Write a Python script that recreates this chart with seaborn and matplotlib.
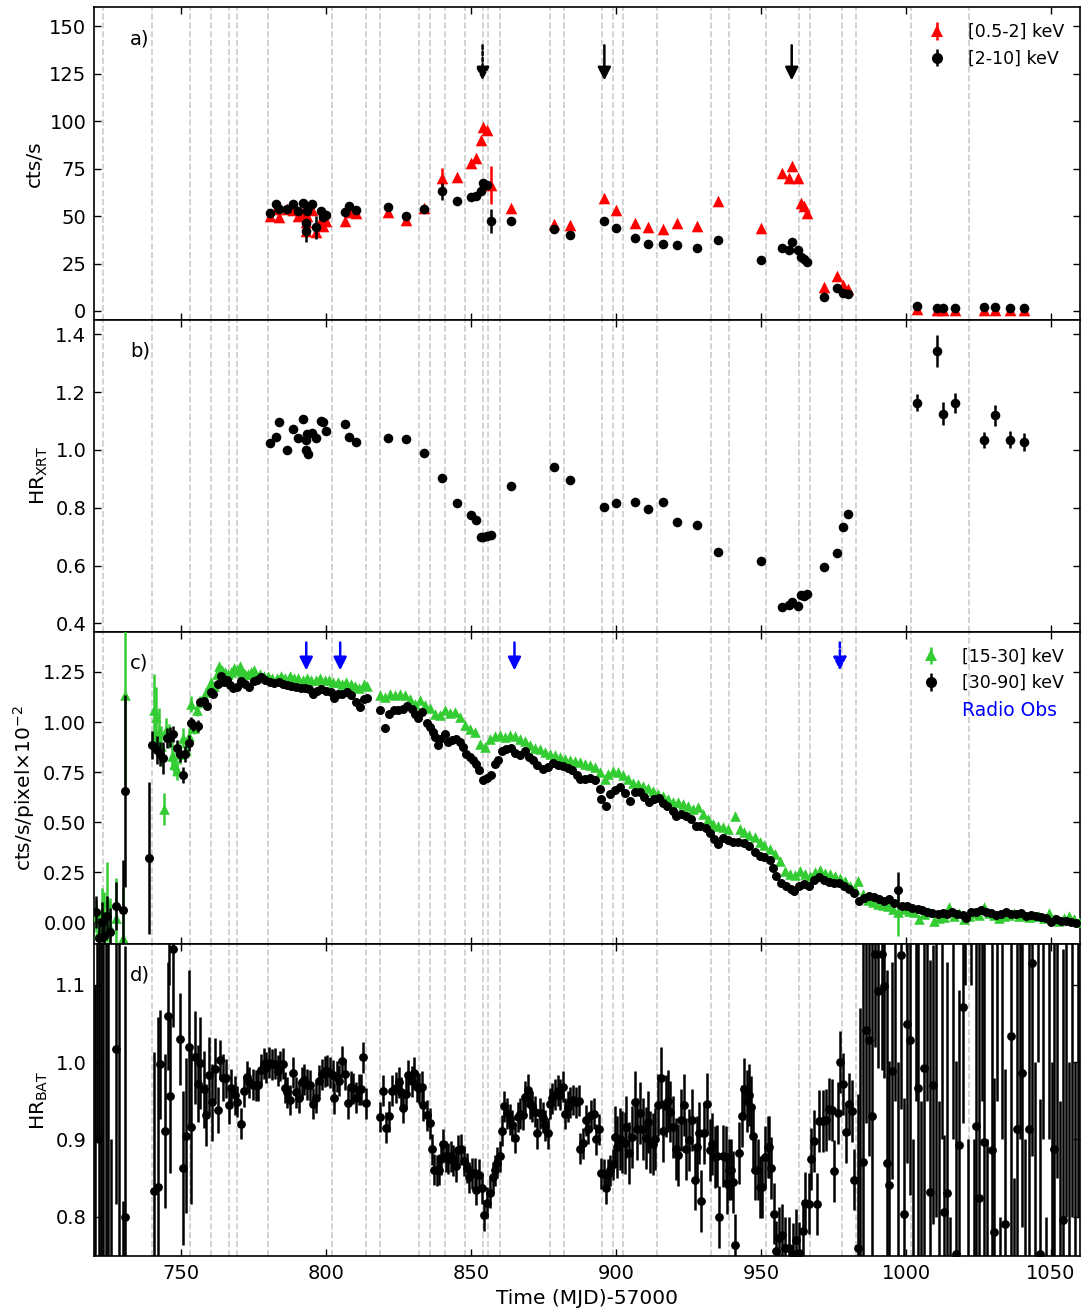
import numpy as np
import matplotlib
matplotlib.use("Agg")
import matplotlib.pyplot as plt
import seaborn as sns
from matplotlib.lines import Line2D
from matplotlib.ticker import FormatStrFormatter

# ---------------------------------------------------------------- XRT data
xrt_t = [780.8, 782.6, 783.8, 786.6, 788.8, 790.3, 792.0, 793.0, 793.2, 793.5,
         793.8, 795.2, 796.5, 798.4, 798.9, 800.1,
         806.6, 808.1, 810.5, 821.4, 827.7, 833.7, 839.9, 845.2, 850.0, 851.6,
         853.6, 854.0, 855.4, 856.9, 863.8, 878.8, 884.2, 896.0, 899.9, 906.5,
         911.1, 916.3, 921.2, 927.9, 935.2, 950.0, 957.3, 959.5, 960.6, 962.7,
         963.7, 964.8, 966.0, 971.8, 976.3, 978.4, 980.1, 1003.9, 1010.8, 1012.7,
         1016.9, 1026.9, 1030.8, 1035.9, 1040.7]

xrt_hard = [51.4, 56.2, 54.0, 53.7, 56.5, 52.5, 56.7, 42.1, 46.5, 52.5,
            54.6, 56.2, 44.0, 52.6, 49.6, 50.7,
            52.1, 55.5, 53.0, 54.6, 50.0, 53.5, 63.0, 57.9, 60.0, 60.7,
            63.4, 67.3, 66.5, 47.4, 47.4, 43.0, 40.3, 47.5, 43.7, 38.2,
            35.4, 35.2, 34.7, 33.1, 37.5, 26.9, 33.3, 32.4, 36.1, 32.4,
            28.3, 27.3, 25.9, 7.6, 12.0, 9.7, 8.8, 2.5, 1.8, 1.8,
            1.8, 1.9, 2.1, 1.8, 1.8]
xrt_hard_err = ([0.8] * 7 + [6.0] + [0.8] * 4 + [6.0] + [0.8] * 3
                + [0.8] * 6 + [4.5, 0.8] + [0.8] * 5 + [6.5] + [0.8] * 31)

xrt_soft = [50.0, 53.5, 49.3, 53.5, 53.0, 50.2, 51.5, 42.1, 46.8, 50.2,
            55.0, 53.2, 41.7, 47.8, 44.7, 47.2,
            47.5, 52.3, 51.4, 52.1, 48.2, 54.4, 69.9, 70.8, 77.8, 80.8,
            90.1, 97.2, 95.4, 66.4, 54.4, 45.8, 45.1, 59.3, 53.3, 46.5,
            44.4, 43.0, 46.5, 44.7, 57.9, 43.8, 72.5, 70.2, 76.6, 69.9,
            57.0, 55.3, 51.8, 12.7, 18.7, 13.6, 11.6, 1.2, 0.7, 0.7,
            0.7, 0.7, 0.7, 0.7, 0.7]
xrt_soft_err = ([0.8] * 7 + [3.0] + [0.8] * 4 + [3.5] + [0.8] * 3
                + [0.8] * 6 + [5.5, 0.8] + [0.8] * 5 + [10.0] + [0.8] * 31)

xrt_hr = [1.025, 1.043, 1.095, 1.000, 1.073, 1.040, 1.107, 1.035, 0.999, 1.055,
          0.987, 1.059, 1.042, 1.101, 1.095, 1.066,
          1.089, 1.044, 1.028, 1.042, 1.036, 0.989, 0.903, 0.817, 0.774, 0.756,
          0.700, 0.698, 0.701, 0.706, 0.876, 0.942, 0.895, 0.802, 0.815, 0.821,
          0.794, 0.819, 0.751, 0.741, 0.647, 0.617, 0.458, 0.464, 0.473, 0.461,
          0.499, 0.496, 0.502, 0.595, 0.644, 0.733, 0.777, 1.163, 1.343, 1.125,
          1.163, 1.033, 1.119, 1.035, 1.027]
xrt_hr_err = [0.008] * 53 + [0.03, 0.055, 0.04, 0.035, 0.028, 0.035, 0.03, 0.03]

# ---------------------------------------------------------------- BAT 30-90 keV
hard_noisy_t = [720.6, 721.6, 722.6, 723.6, 724.6, 725.6, 727.5, 729.9, 730.7, 739.1,
                740.1, 741.8, 742.9, 743.8, 745.2, 746.3, 747.4, 748.6, 749.7, 750.6,
                751.4, 752.6, 753.4, 754.3, 755.7, 997.4]
hard_noisy_v = [0.05, -0.08, 0.00, -0.07, 0.03, -0.05, 0.08, 0.06, 0.655, 0.32,
                0.883, 0.86, 0.84, 0.82, 0.92, 0.925, 0.94, 0.87, 0.84, 0.735,
                0.84, 0.895, 0.995, 0.985, 0.98, 0.161]
hard_noisy_e = [0.08, 0.10, 0.10, 0.12, 0.10, 0.12, 0.12, 0.25, 0.48, 0.38,
                0.07, 0.07, 0.06, 0.08, 0.05, 0.05, 0.04, 0.04, 0.04, 0.04,
                0.04, 0.04, 0.03, 0.03, 0.03, 0.09]

hard_rise_t = [756.6, 757.8, 759.1, 760.3, 761.2, 762.6, 763.7, 764.9, 766.0, 767.0,
               768.1, 769.3, 770.6, 772.2, 773.3, 775.1, 776.2, 777.7, 779.1, 780.8,
               782.2, 783.8, 785.3, 786.6, 788.1, 789.5, 791.3, 792.7, 794.2, 795.5,
               797.0, 798.4, 799.9, 801.6, 802.7, 804.1, 805.6, 807.4, 808.7, 810.2,
               811.6, 813.1, 814.2]
hard_rise_v = [1.10, 1.105, 1.08, 1.15, 1.14, 1.19, 1.23, 1.20, 1.21, 1.185,
               1.17, 1.175, 1.205, 1.19, 1.175, 1.205, 1.21, 1.225, 1.21, 1.20,
               1.195, 1.20, 1.19, 1.185, 1.18, 1.175, 1.17, 1.17, 1.165, 1.14,
               1.155, 1.165, 1.155, 1.15, 1.12, 1.14, 1.14, 1.15, 1.135, 1.10,
               1.075, 1.115, 1.12]

hard_decay_t = [818.7, 820.4, 821.6, 823.3, 825.0, 826.5, 828.1, 829.6, 830.8, 831.9,
                833.1, 834.8, 835.9, 836.9, 837.7, 838.6, 839.4, 841.1, 842.2, 843.4,
                844.9, 846.3, 847.4, 848.3, 849.5, 850.6, 851.7, 852.9, 854.3, 855.4,
                856.8, 858.3, 859.4, 860.6, 862.1, 863.7, 865.2, 866.9, 868.6, 870.1,
                871.5, 872.9, 874.9, 876.7, 878.4, 880.1, 881.8, 883.5, 885.0, 886.6,
                887.6, 889.3, 891.0, 892.7, 894.5, 895.0, 896.5, 897.9, 899.6, 901.4,
                903.1, 904.8, 906.5, 908.2, 909.7, 911.5, 913.1, 914.9, 916.3, 917.6,
                919.5, 920.8, 922.5, 924.3, 926.0, 927.5, 929.1, 930.9, 932.3, 933.8,
                935.2, 936.9, 938.6, 940.4, 942.1]
hard_decay_v = [1.058, 0.97, 1.04, 1.06, 1.058, 1.066, 1.08, 1.066, 1.04, 1.02,
                1.05, 0.996, 0.975, 0.95, 0.925, 0.883, 0.917, 0.942, 0.90, 0.908,
                0.913, 0.90, 0.875, 0.842, 0.825, 0.808, 0.792, 0.758, 0.708, 0.72,
                0.733, 0.792, 0.808, 0.853, 0.863, 0.87, 0.846, 0.836, 0.853, 0.825,
                0.808, 0.787, 0.763, 0.775, 0.796, 0.787, 0.78, 0.77, 0.758, 0.733,
                0.713, 0.717, 0.72, 0.708, 0.667, 0.617, 0.583, 0.642, 0.658, 0.675,
                0.646, 0.608, 0.65, 0.65, 0.625, 0.60, 0.617, 0.62, 0.596, 0.58,
                0.558, 0.533, 0.542, 0.533, 0.517, 0.483, 0.48, 0.47, 0.446, 0.416,
                0.391, 0.42, 0.413, 0.40, 0.40]

hard_tail_t = [944.3, 946.0, 947.8, 949.5, 951.2, 953.0, 954.1, 955.2, 957.0, 958.7,
               960.4, 961.5, 963.2, 965.0, 966.7, 968.4, 970.1, 971.9, 973.6, 975.3,
               977.0, 978.7, 980.5, 982.2, 983.9, 985.6, 987.4, 989.1, 990.8, 992.5,
               994.2, 996.0, 998.8, 1000.5, 1002.2, 1004.0, 1005.7, 1007.4, 1009.1, 1010.9,
               1012.6, 1014.3, 1016.0, 1017.7, 1019.5, 1020.6, 1022.3, 1024.0, 1025.8, 1027.5,
               1029.2, 1030.9, 1032.7, 1034.4, 1036.1, 1037.8, 1039.5, 1041.3, 1043.0, 1044.7,
               1046.4, 1048.2, 1049.9, 1051.6, 1053.3, 1055.1, 1056.8, 1058.5]
hard_tail_v = [0.397, 0.383, 0.35, 0.33, 0.325, 0.31, 0.272, 0.23, 0.194, 0.18,
               0.164, 0.156, 0.18, 0.19, 0.18, 0.21, 0.225, 0.213, 0.20, 0.197,
               0.194, 0.183, 0.164, 0.144, 0.106, 0.122, 0.13, 0.125, 0.117, 0.106,
               0.117, 0.095, 0.083, 0.083, 0.07, 0.067, 0.062, 0.05, 0.047, 0.042,
               0.045, 0.042, 0.05, 0.042, 0.037, 0.02, 0.053, 0.053, 0.062, 0.053,
               0.045, 0.037, 0.042, 0.05, 0.042, 0.042, 0.045, 0.033, 0.037, 0.03,
               0.025, 0.02, 0.003, 0.017, 0.008, 0.008, 0.003, -0.003]

# ---------------------------------------------------------------- BAT 15-30 keV
soft_noisy_t = [720.6, 721.6, 722.6, 723.6, 724.6, 725.6, 727.5, 729.9, 730.7, 740.6,
                741.3, 742.3, 743.0, 744.1, 744.8, 745.8, 747.0, 747.7, 748.6, 749.7,
                750.6, 751.7, 752.6, 753.4, 754.4, 755.6, 756.6, 757.6, 758.6, 759.5,
                997.4]
soft_noisy_v = [0.03, -0.05, 0.05, 0.00, 0.10, -0.03, 0.02, -0.08, 1.133, 1.058,
                1.025, 0.95, 0.88, 0.566, 0.96, 0.93, 0.83, 0.79, 0.76, 0.84,
                0.92, 0.86, 0.93, 1.09, 0.97, 1.06, 1.10, 1.11, 1.15, 1.17,
                0.05]
soft_noisy_e = [0.08, 0.10, 0.12, 0.15, 0.20, 0.15, 0.20, 0.25, 0.45, 0.18,
                0.15, 0.12, 0.10, 0.08, 0.06, 0.06, 0.07, 0.06, 0.05, 0.05,
                0.05, 0.04, 0.04, 0.04, 0.03, 0.03, 0.03, 0.02, 0.02, 0.02,
                0.12]

soft_rise_t = [760.4, 761.3, 762.3, 763.2, 764.2, 765.2, 766.2, 767.2, 768.2, 769.2,
               770.2, 771.2, 772.2, 773.2, 774.2, 775.2, 776.2, 777.2, 778.5, 780.0,
               781.5, 783.0, 784.5, 786.0, 787.5, 789.0, 790.5, 792.0, 793.5, 795.0,
               796.5, 798.0, 799.5, 801.0, 802.5, 804.0, 805.5, 807.0, 808.5, 810.0,
               811.5, 813.0, 814.2]
soft_rise_v = [1.20, 1.18, 1.24, 1.28, 1.26, 1.25, 1.24, 1.25, 1.27, 1.26,
               1.28, 1.25, 1.24, 1.24, 1.25, 1.26, 1.23, 1.24, 1.23, 1.23,
               1.22, 1.22, 1.23, 1.22, 1.23, 1.22, 1.22, 1.21, 1.22, 1.21,
               1.21, 1.22, 1.21, 1.21, 1.20, 1.20, 1.19, 1.20, 1.19, 1.18,
               1.17, 1.19, 1.18]

soft_decay_t = [818.7, 820.4, 822.1, 823.9, 825.6, 827.3, 829.0, 830.8, 832.5, 834.2,
                836.0, 837.7, 839.4, 841.1, 842.8, 844.6, 846.3, 848.0, 849.7, 851.4,
                853.1, 854.9, 856.6, 858.3, 860.0, 861.7, 863.5, 865.2, 866.9, 868.6,
                870.4, 872.1, 873.8, 875.6, 877.3, 879.0, 880.7, 882.5, 884.2, 885.9,
                887.6, 889.3, 891.0, 892.8, 894.5, 896.2, 897.3, 899.1, 900.8, 902.5,
                904.2, 906.0, 907.7, 909.4, 911.1, 912.8, 914.6, 916.3, 918.0, 919.7,
                921.4, 923.2, 924.9, 926.6, 928.3, 930.0, 931.7, 933.5, 935.2, 936.9,
                938.6, 940.9, 942.6]
soft_decay_v = [1.133, 1.125, 1.14, 1.133, 1.14, 1.133, 1.116, 1.09, 1.108, 1.087,
                1.07, 1.04, 1.036, 1.058, 1.046, 1.05, 1.025, 0.983, 0.967, 0.95,
                0.892, 0.875, 0.917, 0.93, 0.933, 0.925, 0.933, 0.93, 0.917, 0.903,
                0.883, 0.87, 0.863, 0.85, 0.842, 0.833, 0.825, 0.817, 0.808, 0.803,
                0.80, 0.792, 0.783, 0.775, 0.75, 0.717, 0.742, 0.753, 0.75, 0.733,
                0.717, 0.697, 0.692, 0.68, 0.67, 0.653, 0.642, 0.63, 0.617, 0.603,
                0.60, 0.592, 0.583, 0.567, 0.575, 0.542, 0.517, 0.492, 0.483, 0.475,
                0.467, 0.533, 0.467]

soft_tail_t = [944.3, 946.0, 947.8, 949.5, 951.2, 953.0, 954.7, 956.4, 958.2, 959.9,
               961.6, 963.4, 965.1, 966.8, 968.5, 970.3, 972.0, 973.7, 975.4, 977.2,
               978.9, 980.6, 982.3, 983.5, 985.2, 986.9, 988.6, 990.4, 992.1, 993.8,
               995.5, 999.4, 1001.1, 1002.8, 1004.6, 1006.3, 1008.0, 1009.7, 1011.4, 1013.2,
               1014.9, 1016.6, 1018.3, 1020.1, 1021.8, 1023.5, 1025.2, 1027.0, 1028.7, 1030.4,
               1032.1, 1033.8, 1035.6, 1037.3, 1039.0, 1040.7, 1042.5, 1044.2, 1045.9, 1047.6,
               1049.4, 1051.1, 1052.8, 1054.5, 1056.3, 1058.0, 1059.5]
soft_tail_v = [0.45, 0.436, 0.425, 0.403, 0.386, 0.366, 0.342, 0.308, 0.258, 0.242,
               0.237, 0.258, 0.242, 0.233, 0.253, 0.263, 0.247, 0.242, 0.233, 0.22,
               0.208, 0.183, 0.167, 0.208, 0.142, 0.113, 0.103, 0.092, 0.087, 0.083,
               0.067, 0.067, 0.058, 0.05, 0.017, 0.042, 0.05, 0.008, 0.02, 0.025,
               0.075, 0.033, 0.047, 0.017, 0.033, 0.047, 0.037, 0.075, 0.047, 0.037,
               0.02, 0.03, 0.037, 0.047, 0.03, 0.037, 0.025, 0.03, 0.03, 0.02,
               0.047, 0.017, 0.008, 0.02, 0.03, 0.017, 0.0]

# ---------------------------------------------------------------- BAT hardness ratio
hr_early_t = [720.3, 721.0, 721.6, 722.3, 723.0, 724.2, 725.0, 725.8, 727.5, 728.5,
              729.9, 730.7,
              740.6, 742.0, 742.7, 744.6, 745.5, 745.9, 746.3, 747.1, 749.7, 750.6,
              751.6, 752.6, 753.6, 754.7, 755.7, 756.7, 757.8, 758.8, 759.7, 760.6,
              761.7, 762.7, 763.6, 764.4, 765.5, 766.5, 767.4, 768.5, 769.4, 770.6]
hr_early_v = [0.50, 1.40, 0.90, 1.30, 0.60, 1.20, 1.50, 0.20, 1.017, 0.70,
              0.62, 0.80,
              0.833, 0.839, 0.997, 0.911, 1.06, 1.20, 0.956, 1.146, 1.03, 0.863,
              0.905, 1.019, 0.916, 1.006, 0.972, 0.999, 0.965, 0.932, 0.983, 0.948,
              0.991, 0.938, 1.003, 0.98, 0.979, 0.945, 0.966, 0.957, 0.949, 0.92]
hr_early_e = [0.60, 0.50, 0.60, 0.70, 0.60, 0.50, 0.80, 0.70, 0.20, 0.50,
              0.20, 0.35,
              0.18, 0.22, 0.07, 0.10, 0.07, 0.10, 0.10, 0.10, 0.06, 0.10,
              0.10, 0.10, 0.10, 0.06, 0.05, 0.06, 0.05, 0.04, 0.05, 0.05,
              0.04, 0.03, 0.025, 0.03, 0.025, 0.025, 0.025, 0.025, 0.02, 0.02]

hr_mid_t = [771.7, 772.7, 773.6, 774.7, 775.7, 776.7, 777.5, 778.5, 779.4, 780.3,
            781.4, 782.4, 783.3, 784.3, 785.2, 785.8, 786.7, 787.7, 788.7, 789.6,
            790.6, 791.6, 792.5, 793.6, 794.6, 795.6, 796.6, 797.5, 798.5, 799.5,
            800.4, 801.4, 802.4, 802.8, 803.7, 804.6, 805.6, 806.7, 807.7, 808.5,
            809.4, 810.3, 811.3, 812.0, 812.9, 813.8, 818.8, 819.7, 820.8, 821.7,
            822.8, 824.0, 825.1, 825.8, 826.7, 827.6, 828.4, 829.6, 830.5, 831.3,
            832.2, 833.0, 833.6, 834.7, 835.7, 836.5, 837.3, 838.2, 839.1, 839.6,
            840.5, 841.4, 842.2, 843.0, 843.9, 844.8, 845.6, 846.6, 847.6, 848.5,
            849.4, 850.3, 851.4, 851.9, 852.9, 853.7, 854.5, 855.4, 856.5, 857.5,
            858.3, 859.1, 860.0, 860.6, 861.5, 862.4, 863.4, 864.3, 865.3, 866.1,
            866.9, 867.8, 868.6, 869.5, 870.3, 871.2, 872.1, 872.8, 873.7, 874.7,
            875.6, 876.4, 877.2, 878.1, 879.0, 880.0, 880.6, 881.6, 882.5, 883.4,
            884.3, 885.2, 886.1, 887.1, 887.5, 888.7, 889.6, 890.5, 891.4, 892.3,
            893.2, 894.2, 895.0, 895.8, 896.5, 897.3, 898.1, 899.0]
hr_mid_v = [0.962, 0.981, 0.974, 0.971, 0.970, 0.970, 0.990, 0.998, 0.993, 0.999,
            0.997, 0.998, 0.989, 0.995, 0.998, 0.967, 0.961, 0.951, 0.986, 0.961,
            0.954, 0.974, 0.977, 0.971, 0.970, 0.946, 0.954, 0.976, 0.984, 0.988,
            0.989, 0.986, 0.983, 0.953, 0.981, 0.976, 1.001, 0.984, 0.947, 0.968,
            0.966, 0.954, 0.964, 0.965, 1.006, 0.947, 0.929, 0.963, 0.915, 0.930,
            0.963, 0.967, 0.974, 0.961, 0.941, 0.959, 0.983, 0.975, 0.986, 0.968,
            0.966, 0.968, 0.944, 0.931, 0.921, 0.887, 0.861, 0.860, 0.861, 0.874,
            0.894, 0.878, 0.875, 0.878, 0.873, 0.865, 0.886, 0.887, 0.872, 0.863,
            0.851, 0.856, 0.856, 0.835, 0.854, 0.837, 0.802, 0.818, 0.831, 0.851,
            0.860, 0.870, 0.878, 0.911, 0.943, 0.934, 0.926, 0.918, 0.902, 0.929,
            0.933, 0.932, 0.955, 0.964, 0.946, 0.943, 0.936, 0.908, 0.934, 0.928,
            0.918, 0.908, 0.946, 0.953, 0.958, 0.963, 0.958, 0.968, 0.933, 0.942,
            0.948, 0.951, 0.948, 0.950, 0.888, 0.895, 0.925, 0.914, 0.931, 0.933,
            0.900, 0.913, 0.856, 0.855, 0.837, 0.855, 0.860, 0.868]

hr_late_mid_t = [899.6, 900.4, 901.3, 902.2, 903.0, 903.6, 904.5, 905.4, 906.4, 907.4,
                 908.3, 909.3, 910.2, 911.0, 911.8, 912.7, 913.6, 914.5, 915.6, 916.2,
                 917.1, 918.0, 918.7, 919.6, 920.6, 921.5, 922.4, 923.3, 924.2, 925.1,
                 926.1, 927.1, 927.9, 928.6, 929.4, 930.2, 931.5, 932.3, 933.1, 934.0,
                 934.8, 935.5, 936.8, 937.8, 938.2, 938.9, 939.7, 940.5, 941.2, 942.4,
                 943.4, 944.3, 945.1, 946.0, 946.7, 947.4, 948.1, 949.0, 949.7, 950.4,
                 951.3, 952.3, 952.9, 953.5, 954.4, 955.2, 956.1, 957.3, 958.4, 959.6,
                 960.9, 962.1, 963.2, 964.4, 965.3, 966.5, 967.3, 968.4, 969.3, 970.1,
                 971.3, 972.4, 973.6, 974.5, 975.3, 976.4, 977.2, 978.4, 979.3, 980.4,
                 981.4, 982.2]
hr_late_mid_v = [0.903, 0.890, 0.900, 0.897, 0.895, 0.916, 0.882, 0.903, 0.948, 0.913,
                 0.934, 0.913, 0.902, 0.923, 0.897, 0.894, 0.901, 0.944, 0.980, 0.911,
                 0.943, 0.950, 0.936, 0.916, 0.888, 0.880, 0.925, 0.944, 0.888, 0.899,
                 0.925, 0.848, 0.890, 0.908, 0.820, 0.908, 0.946, 0.886, 0.894, 0.877,
                 0.878, 0.800, 0.878, 0.877, 0.843, 0.861, 0.861, 0.845, 0.763, 0.882,
                 0.930, 0.965, 0.950, 0.957, 0.942, 0.904, 0.861, 0.861, 0.838, 0.838,
                 0.877, 0.890, 0.890, 0.863, 0.804, 0.755, 0.772, 0.776, 0.759, 0.759,
                 0.752, 0.770, 0.753, 0.781, 0.818, 0.817, 0.875, 0.898, 0.816, 0.924,
                 0.924, 0.925, 0.939, 0.938, 0.859, 0.934, 1.000, 0.972, 0.909, 0.946,
                 0.937, 0.848]

hr_late_t = [983.3, 984.3, 985.3, 986.2, 987.3, 988.3, 989.2, 990.4, 991.7, 992.5,
             993.3, 994.2, 995.1, 996.2, 997.1, 998.2, 999.4, 1000.3, 1001.3, 1002.3,
             1003.3, 1004.3, 1005.3, 1006.3, 1007.3, 1008.2, 1009.4, 1010.3, 1011.3, 1012.3,
             1013.2, 1014.3, 1015.3, 1016.2, 1017.2, 1018.3, 1019.5, 1020.5, 1021.4, 1022.4,
             1023.4, 1024.3, 1025.2, 1026.2, 1026.9, 1028.0, 1029.6, 1030.4, 1031.5, 1032.4,
             1033.2, 1034.1, 1035.1, 1036.1, 1037.2, 1038.2, 1039.2, 1040.1, 1041.2, 1042.4,
             1043.6, 1044.6, 1045.4, 1046.1, 1047.2, 1048.3, 1049.3, 1050.2, 1051.0, 1052.2,
             1053.2, 1054.1, 1055.2, 1056.2, 1057.3, 1058.3, 1059.3]
hr_late_v = [0.759, 0.62, 0.871, 1.041, 1.029, 0.93, 1.14, 1.092, 1.14, 1.099,
             0.869, 0.841, 0.989, 1.35, 0.55, 1.139, 0.804, 1.049, 1.028, 0.60,
             1.30, 0.966, 0.55, 0.992, 1.35, 0.832, 0.971, 1.30, 0.65, 1.25,
             0.806, 0.83, 0.50, 1.30, 0.752, 0.893, 1.071, 1.40, 0.60, 1.50,
             0.55, 0.917, 0.824, 1.35, 0.896, 0.55, 0.886, 0.78, 1.30, 0.50,
             1.40, 0.791, 0.45, 1.034, 0.60, 0.914, 1.30, 0.986, 0.55, 0.914,
             1.128, 0.60, 1.35, 0.752, 1.30, 0.50, 1.30, 0.65, 0.888, 1.35,
             0.55, 0.796, 1.30, 0.60, 1.25, 0.70, 1.20]
hr_late_e = [0.20, 0.45, 0.30, 0.12, 0.15, 0.35, 0.12, 0.10, 0.15, 0.12,
             0.25, 0.16, 0.14, 0.40, 0.45, 0.20, 0.15, 0.18, 0.20, 0.30,
             0.35, 0.25, 0.40, 0.25, 0.40, 0.30, 0.18, 0.50, 0.30, 0.35,
             0.10, 0.30, 0.30, 0.40, 0.25, 0.20, 0.15, 0.30, 0.30, 0.40,
             0.35, 0.30, 0.35, 0.40, 0.30, 0.35, 0.30, 0.20, 0.35, 0.30,
             0.50, 0.20, 0.30, 0.30, 0.25, 0.35, 0.40, 0.20, 0.35, 0.25,
             0.25, 0.40, 0.35, 0.20, 0.40, 0.30, 0.40, 0.35, 0.30, 0.50,
             0.40, 0.35, 0.50, 0.40, 0.45, 0.30, 0.40]

# ---------------------------------------------------------------- epochs
obs_days = [723.0, 740.0, 753.2, 760.4, 766.4, 769.3, 780.1, 802.0, 813.7, 818.5,
            832.0, 836.0, 841.0, 848.1, 854.0, 855.9, 860.1, 877.2, 882.0, 895.1,
            899.1, 902.4, 914.0, 932.9, 939.0, 951.9, 963.0, 966.9, 978.0, 982.9,
            1001.9, 1021.8]
xrt_arrow_t = [854.0, 896.0, 960.6]
xrt_arrow_dashed = [True, False, False]
radio_t = [793.2, 804.9, 865.0, 977.2]
radio_dashed = [False, False, False, True]

# ---------------------------------------------------------------- style
sns.set_theme(style="ticks")
plt.rcParams.update({
    "font.family": ["DejaVu Sans"],
    "font.size": 14,
    "axes.edgecolor": "black",
    "axes.labelcolor": "black",
    "text.color": "black",
    "xtick.color": "black",
    "ytick.color": "black",
    "axes.linewidth": 1.2,
    "xtick.direction": "in",
    "ytick.direction": "in",
    "xtick.top": True,
    "ytick.right": True,
    "xtick.major.size": 5,
    "ytick.major.size": 5,
    "xtick.major.width": 1.0,
    "ytick.major.width": 1.0,
    "xtick.major.pad": 6,
    "ytick.major.pad": 5.5,
    "xtick.labelsize": 14,
    "ytick.labelsize": 14,
    "axes.labelsize": 14.5,
    "mathtext.default": "regular",
})

RED = "#ff0000"
GREEN = "#33cc33"
BLACK = "#000000"
BLUE = "#0000ff"

fig, axes = plt.subplots(4, 1, sharex=True, figsize=(10.89, 13.14), dpi=100)
fig.subplots_adjust(left=0.0863, right=0.9917, top=0.9944, bottom=0.0441, hspace=0)
ax_a, ax_b, ax_c, ax_d = axes


def plot_points(ax, t, v, e, color, marker, size, z):
    ax.errorbar(t, v, yerr=e, fmt="none", ecolor=color, elinewidth=1.8,
                capsize=0, zorder=z)
    sns.scatterplot(x=t, y=v, ax=ax, color=color, marker=marker, s=size,
                    linewidth=0, zorder=z + 0.1, legend=False)


for ax in axes:
    for d in obs_days:
        ax.axvline(d, color="#cccccc", ls="--", lw=1.2, zorder=0)

# a) XRT count rates
plot_points(ax_a, xrt_t, xrt_soft, xrt_soft_err, RED, "^", 70, 3)
plot_points(ax_a, xrt_t, xrt_hard, xrt_hard_err, BLACK, "o", 48, 4)
for x, dashed in zip(xrt_arrow_t, xrt_arrow_dashed):
    ax_a.annotate("", xy=(x, 121.5), xytext=(x, 140),
                  arrowprops=dict(arrowstyle="-|>,head_width=0.3,head_length=0.6",
                                  color=BLACK, lw=1.8, shrinkA=0, shrinkB=0,
                                  mutation_scale=13,
                                  linestyle=(0, (1.5, 1)) if dashed else "-"))
h_soft = ax_a.errorbar([np.nan], [np.nan], yerr=[np.nan], fmt="^", color=RED,
                       ms=9, mew=0, elinewidth=1.8)
h_hard = ax_a.errorbar([np.nan], [np.nan], yerr=[np.nan], fmt="o", color=BLACK,
                       ms=8, mew=0, elinewidth=1.8)
ax_a.legend([h_soft, h_hard], ["[0.5-2] keV", "[2-10] keV"], loc="upper right",
            frameon=False, fontsize=12.5)
ax_a.set_ylim(-4.5, 160)
ax_a.set_yticks([0, 25, 50, 75, 100, 125, 150])
ax_a.set_ylabel("cts/s")

# b) XRT hardness ratio
plot_points(ax_b, xrt_t, xrt_hr, xrt_hr_err, BLACK, "o", 48, 4)
ax_b.set_ylim(0.371, 1.451)
ax_b.set_yticks([0.4, 0.6, 0.8, 1.0, 1.2, 1.4])
ax_b.yaxis.set_major_formatter(FormatStrFormatter("%.1f"))
ax_b.set_ylabel("HR$_{\\rm XRT}$")

# c) BAT count rates
plot_points(ax_c, soft_noisy_t, soft_noisy_v, soft_noisy_e, GREEN, "^", 58, 3)
for t, v in [(soft_rise_t, soft_rise_v), (soft_decay_t, soft_decay_v),
             (soft_tail_t, soft_tail_v)]:
    plot_points(ax_c, t, v, 0.012, GREEN, "^", 58, 3)
plot_points(ax_c, hard_noisy_t, hard_noisy_v, hard_noisy_e, BLACK, "o", 42, 4)
for t, v in [(hard_rise_t, hard_rise_v), (hard_decay_t, hard_decay_v),
             (hard_tail_t, hard_tail_v)]:
    plot_points(ax_c, t, v, 0.012, BLACK, "o", 42, 4)
for x, dashed in zip(radio_t, radio_dashed):
    ax_c.annotate("", xy=(x, 1.258), xytext=(x, 1.397),
                  arrowprops=dict(arrowstyle="-|>,head_width=0.3,head_length=0.6",
                                  color=BLUE, lw=1.8, shrinkA=0, shrinkB=0,
                                  mutation_scale=13,
                                  linestyle=(0, (2, 1)) if dashed else "-"))
h_s = ax_c.errorbar([np.nan], [np.nan], yerr=[np.nan], fmt="^", color=GREEN,
                    ms=9, mew=0, elinewidth=1.8)
h_h = ax_c.errorbar([np.nan], [np.nan], yerr=[np.nan], fmt="o", color=BLACK,
                    ms=8, mew=0, elinewidth=1.8)
h_r = Line2D([], [], linestyle="none", marker="none")
leg = ax_c.legend([h_s, h_h, h_r], ["[15-30] keV", "[30-90] keV", "Radio Obs"],
                  loc="upper right", frameon=False, fontsize=12.5)
leg.get_texts()[2].set_color(BLUE)
leg.get_texts()[2].set_fontsize(13.5)
ax_c.set_ylim(-0.108, 1.451)
ax_c.set_yticks([0, 0.25, 0.5, 0.75, 1.0, 1.25])
ax_c.yaxis.set_major_formatter(FormatStrFormatter("%.2f"))
ax_c.set_ylabel("cts/s/pixel$\\times10^{-2}$")

# d) BAT hardness ratio
plot_points(ax_d, hr_early_t, hr_early_v, hr_early_e, BLACK, "o", 40, 4)
plot_points(ax_d, hr_mid_t, hr_mid_v, 0.02, BLACK, "o", 40, 4)
plot_points(ax_d, hr_late_mid_t, hr_late_mid_v, 0.04, BLACK, "o", 40, 4)
plot_points(ax_d, hr_late_t, hr_late_v, hr_late_e, BLACK, "o", 40, 4)
ax_d.set_ylim(0.749, 1.153)
ax_d.set_yticks([0.8, 0.9, 1.0, 1.1])
ax_d.yaxis.set_major_formatter(FormatStrFormatter("%.1f"))
ax_d.set_ylabel("HR$_{\\rm BAT}$")
ax_d.set_xlim(720, 1060)
ax_d.set_xticks([750, 800, 850, 900, 950, 1000, 1050])
ax_d.set_xlabel("Time (MJD)-57000")

for ax in axes[:3]:
    ax.set_xlabel("")
for ax, lab in zip(axes, ["a)", "b)", "c)", "d)"]):
    ax.text(0.0365, 0.9, lab, transform=ax.transAxes, fontsize=14, va="center",
            ha="left", zorder=10)
    ax.tick_params(which="both", direction="in", top=True, right=True)

fig.savefig("out.png", dpi=100)
